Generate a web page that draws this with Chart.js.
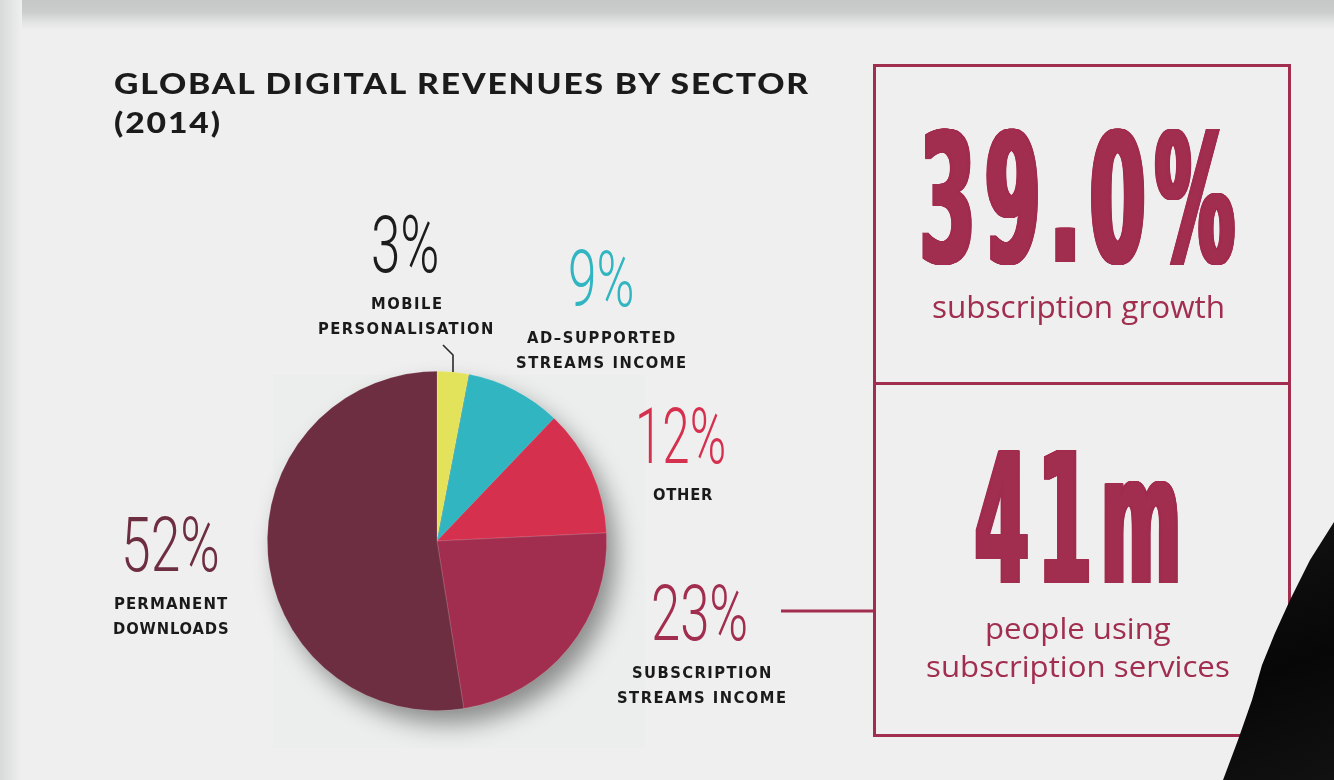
<!DOCTYPE html>
<html>
<head>
<meta charset="utf-8">
<script src="https://cdn.jsdelivr.net/npm/chart.js@4.4.1/dist/chart.umd.min.js"></script>
<style>
  html, body { margin: 0; padding: 0; }
  body { width: 1334px; height: 780px; position: relative; overflow: hidden; background: #efefef; }
  .abs { position: absolute; }
  .txt { position: absolute; white-space: pre; margin: 0; padding: 0; transform-origin: 0 0; }
  #topband { left: 0; top: 0; width: 1334px; height: 30px;
    background: linear-gradient(to bottom, #c6c8c8 0px, #cbcdcd 12px, #e2e3e3 22px, #efefef 30px); }
  #leftband { left: 0; top: 0; width: 22px; height: 780px;
    background: linear-gradient(to right, #d8d9d9 0px, #dfe0e0 7px, #efefef 22px); }
  #pieBg { left: 273px; top: 375px; width: 372px; height: 373px; background: #eceeed; }
  #pie { left: 237px; top: 341px; }
  #box { left: 873px; top: 64px; width: 418px; height: 673px; box-sizing: border-box; border: 3px solid #a12d4f; }
  #divider { left: 873px; top: 382px; width: 418px; height: 3px; background: #a12d4f; }
  #jacket { left: 1200px; top: 500px; width: 134px; height: 280px; background: linear-gradient(160deg, #151515, #070707 60%, #111);
    clip-path: polygon(134px 22px, 110px 60px, 90px 100px, 75px 133px, 62px 165px, 52px 200px, 38px 240px, 23px 280px, 134px 280px); }
</style>
</head>
<body>
<div id="topband" class="abs"></div>
<div id="leftband" class="abs"></div>
<div id="pieBg" class="abs"></div>
<canvas id="pie" class="abs" width="440" height="440"></canvas>
<div id="box" class="abs"></div>
<div id="divider" class="abs"></div>
<svg class="abs" style="left:0;top:0" width="1334" height="780">
  <polyline points="443,345 453,355 453,372" fill="none" stroke="#2a2a2a" stroke-width="1.6"/>
  <line x1="781" y1="611" x2="874" y2="611" stroke="#a12d4f" stroke-width="3"/>
</svg>
<div id="jacket" class="abs"></div>
<script>
// ---------------- data ----------------
const categories = ['Mobile personalisation', 'Ad-supported streams income', 'Other', 'Subscription streams income', 'Permanent downloads'];
const shares = [3, 9, 12, 23, 52];
const labelLines = [['MOBILE', 'PERSONALISATION'], ['AD\u2013SUPPORTED', 'STREAMS INCOME'], ['OTHER'], ['SUBSCRIPTION', 'STREAMS INCOME'], ['PERMANENT', 'DOWNLOADS']];
const titleLines = ['GLOBAL DIGITAL REVENUES BY SECTOR', '(2014)'];
const statValues = ['39.0%', '41m'];
const statCaptions = [['subscription growth'], ['people using', 'subscription services']];

// ---------------- styles ----------------
const sliceColors = ['#e2e35b', '#30b5c1', '#d6304f', '#a22e4f', '#6d2e41'];
const pctColors = ['#1c1c1c', '#30b5c1', '#d6304f', '#a22e4f', '#6d2e41'];
const accent = '#a12d4f';

// ---------------- layout (ink boxes: x0, x1, top, base) ----------------
const pctBoxes = [[373, 437, 214, 272], [570, 632, 249, 306], [639, 724, 406, 463], [654, 746, 583, 640], [125, 217, 515, 571]];
const labelBoxes = [
  [[372, 441, 309], [319, 492, 334]],
  [[527, 675, 343], [517, 685, 368]],
  [[653, 713, 500]],
  [[633, 770, 678], [618, 785, 703]],
  [[115, 228, 609], [114, 228, 634]]
];
const statBoxes = [[922, 1235, 127, 262], [975, 1178, 450, 583]];
const captionBoxes = [[[933, 1223, 294, 318]], [[987, 1170, 617, 639], [927, 1229, 655, 677]]];

// ---------------- text placement helper ----------------
const mc = document.createElement('canvas').getContext('2d');
function put(text, o) {
  const fam = o.family, wt = o.weight || 400;
  let fs = o.fs;
  if (!fs) {
    mc.font = `${wt} 100px ${fam}`;
    const m0 = mc.measureText(text);
    fs = (o.base - o.top) / m0.actualBoundingBoxAscent * 100;
  }
  mc.font = `${wt} ${fs}px ${fam}`;
  const m = mc.measureText(text);
  const A = m.fontBoundingBoxAscent, D = m.fontBoundingBoxDescent;
  const inkH = m.actualBoundingBoxAscent + Math.max(0, m.actualBoundingBoxDescent);
  const L = inkH + 2;
  const el = document.createElement('div');
  el.className = 'txt';
  el.textContent = text;
  el.style.font = `${wt} ${fs}px ${fam}`;
  el.style.lineHeight = L + 'px';
  el.style.height = L + 'px';
  el.style.color = o.color;
  el.style.top = (o.base - (L - (A + D)) / 2 - A) + 'px';
  const n = Math.max(1, text.length - 1);
  const inkW = m.actualBoundingBoxLeft + m.actualBoundingBoxRight;
  let ls = 0;
  if (o.mode === 'scale') {
    const e = o.thicken || 0;
    const preLs = o.ls || 0;
    const s = ((o.x1 - o.x0) - 2 * e) / (inkW + n * preLs);
    if (preLs) el.style.letterSpacing = preLs + 'px';
    el.style.left = (o.x0 + e + s * m.actualBoundingBoxLeft) + 'px';
    el.style.transform = `scaleX(${s})`;
    if (e) {
      const maxOff = e / s, sh = [];
      for (let k = 0.8; k <= maxOff + 0.01; k += 0.8) { sh.push(`${k}px 0 0 ${o.color}`, `${-k}px 0 0 ${o.color}`); }
      el.style.textShadow = sh.join(',');
    }
  } else {
    const sx = o.sx || 1;
    ls = (o.ls !== undefined) ? o.ls : (((o.x1 - o.x0) / sx) - inkW) / n;
    el.style.letterSpacing = ls + 'px';
    el.style.left = (o.x0 + sx * m.actualBoundingBoxLeft) + 'px';
    if (sx !== 1) el.style.transform = `scaleX(${sx})`;
  }
  document.body.appendChild(el);
  return { fs, ls };
}

// title
const titleFont = "Lato, 'DejaVu Sans', sans-serif";
const t1 = put(titleLines[0], { family: titleFont, weight: 900, color: '#1b1b1b', x0: 114, x1: 812, top: 73, base: 94, mode: 'spacing', sx: 1.17 });
put(titleLines[1], { family: titleFont, weight: 900, color: '#1b1b1b', x0: 114, base: 133, fs: t1.fs, ls: t1.ls, mode: 'spacing', sx: 1.17 });

// percentage labels & category labels
const thinFont = "Roboto, 'DejaVu Sans', sans-serif";
const capsFont = "'DejaVu Sans Condensed', 'Liberation Sans Narrow', 'Liberation Sans', sans-serif";
shares.forEach((v, i) => {
  const b = pctBoxes[i];
  put(v + '%', { family: thinFont, weight: 300, color: pctColors[i], x0: b[0], x1: b[1], top: b[2], base: b[3], mode: 'scale' });
  labelLines[i].forEach((line, j) => {
    const lb = labelBoxes[i][j];
    put(line, { family: capsFont, weight: 700, color: '#1a1a1a', x0: lb[0], x1: lb[1], top: lb[2] - 12.3, base: lb[2], mode: 'spacing' });
  });
});

// stat boxes
const heavyFont = "'DejaVu Sans', sans-serif";
const captionFont = "'Open Sans', 'DejaVu Sans', sans-serif";
statValues.forEach((v, i) => {
  const b = statBoxes[i];
  put(v, { family: heavyFont, weight: 700, color: accent, x0: b[0], x1: b[1], top: b[2], base: b[3], mode: 'scale', thicken: 3, ls: 22 });
  statCaptions[i].forEach((line, j) => {
    const cb = captionBoxes[i][j];
    put(line, { family: captionFont, weight: 400, color: accent, x0: cb[0], x1: cb[1], top: cb[2], base: cb[3], mode: 'scale' });
  });
});

// ---------------- pie chart ----------------
const pieShadow = {
  id: 'pieShadow',
  beforeDatasetsDraw(chart) {
    const arc = chart.getDatasetMeta(0).data[0];
    if (!arc) return;
    const ctx = chart.ctx;
    ctx.save();
    ctx.shadowColor = 'rgba(0,0,0,0.42)';
    ctx.shadowBlur = 24;
    ctx.shadowOffsetX = 10;
    ctx.shadowOffsetY = 14;
    ctx.beginPath();
    ctx.arc(arc.x, arc.y, arc.outerRadius - 1, 0, Math.PI * 2);
    ctx.fillStyle = sliceColors[sliceColors.length - 1];
    ctx.fill();
    ctx.restore();
  }
};

new Chart(document.getElementById('pie'), {
  type: 'pie',
  data: {
    labels: categories,
    datasets: [{
      data: shares,
      backgroundColor: sliceColors,
      borderColor: 'rgba(255,255,255,0.25)',
      borderWidth: 0.6
    }]
  },
  options: {
    responsive: false,
    animation: false,
    layout: { padding: { left: 30, top: 30, right: 70, bottom: 70 } },
    plugins: { legend: { display: false }, tooltip: { enabled: false } }
  },
  plugins: [pieShadow]
});
</script>
</body>
</html>
